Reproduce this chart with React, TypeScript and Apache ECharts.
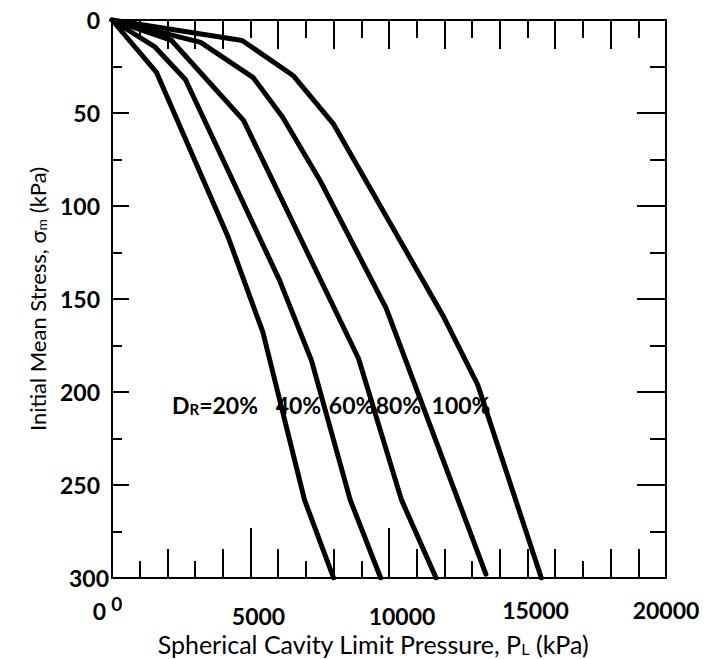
import React, { useEffect, useRef } from "react";
import * as echarts from "echarts";

// ---- data ----
const xTickLabels = [0, 5000, 10000, 15000, 20000];
const yTickLabels = [0, 50, 100, 150, 200, 250, 300];

const curve20 = [[0, 0], [1600, 28], [4200, 117], [5450, 168], [6950, 258], [8000, 300]];
const curve40 = [[0, 0], [1550, 14.5], [2650, 32], [6050, 140], [7200, 183], [8600, 258], [9700, 300]];
const curve60 = [[0, 0], [2150, 11], [4750, 54], [8900, 182], [10450, 258], [11700, 300]];
const curve80 = [[0, 0], [3200, 12], [5100, 31], [6150, 52], [7500, 86], [9900, 155], [13500, 298]];
const curve100 = [[0, 0], [4700, 11], [6550, 30], [8000, 56], [11950, 159], [13200, 196], [15500, 300]];

const curveNames = ["20%", "40%", "60%", "80%", "100%"];
const labelTexts = ["{b|D}{s|R}{b|=20%}", "{b|40%}", "{b|60%}", "{b|80%}", "{b|100%}"];
const labelX = [3720, 6730, 8650, 10340, 12600];
const labelY = [206, 206, 206, 206, 206];

const bottomLongTicks = [0, 2000, 4000, 6000, 8000, 11000, 12000, 14000, 15000, 16000, 18000, 19000];
const bottomShortTicks = [1000, 3000, 7000, 9000, 13000, 17000];
const bottomExtraTicks = [5000, 10000];
const topLongTicks = [2000, 3000, 4000, 6000, 8000, 10000, 12000, 14000, 16000, 18000];
const topShortTicks = [1000, 5000, 7000, 9000, 11000, 13000, 15000, 17000, 19000];
const leftMajorTicks = [50, 100, 150, 200, 250];
const leftMinorTicks = [25, 75, 125, 175, 225, 275];
const rightMajorTicks = [50, 100, 150, 200, 250, 300];
const rightMinorTicks = [25, 75, 125, 175, 225, 275];

const FONT = "Lato";
const BLACK = "#000";

function xAxisDef(position: string, ticks: number[], len: number, extra: any = {}) {
  return {
    type: "value",
    position,
    min: 0,
    max: 20000,
    interval: 5000,
    axisLine: { show: false, onZero: false },
    axisTick: { show: true, inside: true, length: len, customValues: ticks, lineStyle: { color: BLACK, width: 2 } },
    axisLabel: { show: false },
    splitLine: { show: false },
    ...extra,
  };
}
function yAxisDef(position: string, ticks: number[], len: number, extra: any = {}) {
  return {
    type: "value",
    position,
    inverse: true,
    min: 0,
    max: 300,
    interval: 50,
    axisLine: { show: false, onZero: false },
    axisTick: { show: true, inside: true, length: len, customValues: ticks, lineStyle: { color: BLACK, width: 2 } },
    axisLabel: { show: false },
    splitLine: { show: false },
    ...extra,
  };
}

const boldNum = { fontFamily: FONT, fontWeight: "bold", fontSize: 23, color: BLACK };

export default function App() {
  const ref = useRef<HTMLDivElement>(null);
  useEffect(() => {
    if (!ref.current) return;
    const chart = echarts.init(ref.current, null, { renderer: "svg" });
    const curves = [curve20, curve40, curve60, curve80, curve100];
    const series: any[] = curves.map((c, i) => ({
      type: "line",
      name: curveNames[i],
      data: c,
      xAxisIndex: 0,
      yAxisIndex: 0,
      symbol: "none",
      showSymbol: false,
      silent: true,
      lineStyle: { color: BLACK, width: 5, cap: "round", join: "round" },
    }));
    series.push({
      type: "scatter",
      xAxisIndex: 0,
      yAxisIndex: 0,
      symbolSize: 0,
      silent: true,
      itemStyle: { color: BLACK, opacity: 1 },
      data: labelX.map((x, i) => [x, labelY[i], i]),
      label: {
        show: true,
        position: "inside",
        color: BLACK,
        textBorderWidth: 0,
        formatter: (p: any) => labelTexts[p.data[2]],
        rich: {
          b: { ...boldNum, verticalAlign: "bottom", lineHeight: 26, textBorderWidth: 0 },
          s: { ...boldNum, fontSize: 15, verticalAlign: "bottom", lineHeight: 22, textBorderWidth: 0 },
        },
      },
    });

    const option: any = {
      animation: false,
      backgroundColor: "#fff",
      grid: { left: 112, top: 20, width: 554, height: 558, containLabel: false, outerBoundsMode: "none" },
      xAxis: [
        xAxisDef("bottom", bottomExtraTicks, 50, {
          axisLine: { show: true, onZero: false, lineStyle: { color: BLACK, width: 2 } },
          axisLabel: {
            show: true,
            margin: 16,
            showMinLabel: true,
            showMaxLabel: true,
            formatter: (v: number) => {
              if (v === 0) return "{a|0}{p|0}";
              if (v === 5000) return "{m|5000}";
              if (v === 10000) return "{k|10000}";
              if (v === 15000) return "{q|15000}";
              return "{n|" + v + "}";
            },
            rich: {
              n: { ...boldNum, padding: [4, 0, 0, 0] },
              q: { ...boldNum, padding: [4, 0, 0, 16] },
              m: { ...boldNum, padding: [10, 0, 0, 16] },
              k: { ...boldNum, padding: [10, 0, 0, 26] },
              a: { ...boldNum, padding: [0, 5, 0, 0], verticalAlign: "bottom", lineHeight: 28 },
              p: { ...boldNum, fontSize: 19, padding: [0, 9, 0, 0], verticalAlign: "top", lineHeight: 8 },
            },
          },
          name: "Spherical Cavity Limit Pressure, P{s|L} (kPa)",
          nameLocation: "middle",
          nameGap: 45,
          nameTextStyle: {
            fontFamily: FONT,
            fontSize: 25,
            color: BLACK,
            padding: [0, 32, 0, 0],
            rich: {
              s: { fontFamily: FONT, fontSize: 16, color: BLACK, verticalAlign: "bottom", lineHeight: 22 },
            },
          },
        }),
        xAxisDef("bottom", bottomLongTicks, 29),
        xAxisDef("bottom", bottomShortTicks, 17),
        xAxisDef("top", topLongTicks, 29, {
          axisLine: { show: true, onZero: false, lineStyle: { color: BLACK, width: 2 } },
        }),
        xAxisDef("top", topShortTicks, 18),
      ],
      yAxis: [
        yAxisDef("left", leftMajorTicks, 17, {
          axisLine: { show: true, onZero: false, lineStyle: { color: BLACK, width: 2 } },
          axisLabel: {
            show: true,
            margin: 3,
            showMinLabel: true,
            showMaxLabel: true,
            formatter: (v: number) =>
              yTickLabels.indexOf(v) < 0 ? "" : v === 300 ? "{e|300}" : "{y|" + v + "}",
            rich: {
              y: { ...boldNum, padding: [0, 9, 0, 0] },
              e: { ...boldNum },
            },
          },
          name: "Initial Mean Stress, σ{s|m} (kPa)",
          nameLocation: "middle",
          nameRotate: 90,
          nameGap: 64,
          nameTextStyle: {
            fontFamily: FONT,
            fontSize: 22,
            color: BLACK,
            rich: {
              s: { fontFamily: FONT, fontSize: 14, color: BLACK, verticalAlign: "bottom", lineHeight: 20 },
            },
          },
        }),
        yAxisDef("left", leftMinorTicks, 10),
        yAxisDef("right", rightMajorTicks, 29, {
          axisLine: { show: true, onZero: false, lineStyle: { color: BLACK, width: 2 } },
        }),
        yAxisDef("right", rightMinorTicks, 16),
      ],
      series,
    };
    chart.setOption(option);
    return () => chart.dispose();
  }, []);
  return (
    <div
      ref={ref}
      style={{ position: "fixed", left: 0, top: 0, width: 710, height: 659, background: "#fff" }}
    />
  );
}
